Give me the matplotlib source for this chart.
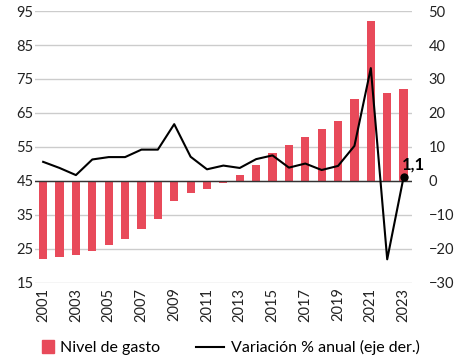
import numpy as np
import matplotlib.pyplot as plt
from matplotlib.lines import Line2D
from matplotlib.patches import Patch, Rectangle
from matplotlib.legend_handler import HandlerPatch

plt.rcParams['font.family'] = ['Lato', 'DejaVu Sans']

years = list(range(2001, 2024))
gasto = [22.0, 22.6, 23.1, 24.3, 26.1, 27.9, 30.8, 33.7, 39.0, 41.4, 42.6, 44.4,
         46.8, 49.7, 53.1, 55.6, 57.9, 60.3, 62.6, 69.1, 92.0, 70.8, 72.0]
variacion = [5.6, 3.8, 1.7, 6.3, 7.0, 7.0, 9.2, 9.2, 16.7, 7.1, 3.4, 4.5,
             3.8, 6.4, 7.5, 3.9, 5.1, 3.2, 4.4, 10.3, 33.2, -23.1, 1.1]
base = 45
bar_color = '#e84a5a'

fig = plt.figure(figsize=(4.54, 3.57), dpi=100)
ax = fig.add_axes([0.077, 0.208, 0.83, 0.761])
ax2 = ax.twinx()

x = np.arange(len(years))
ax.bar(x, np.array(gasto) - base, bottom=base, width=0.5, color=bar_color, zorder=2)
ax.axhline(base, color='#333333', lw=1, zorder=3)
ax.set_ylim(15, 95)
ax.set_yticks(range(15, 96, 10))
ax.grid(axis='y', color='#cccccc', lw=1, zorder=0)
ax.set_axisbelow(True)
ax.set_xlim(-0.5, 22.5)
ax.set_xticks(x[::2])
ax.set_xticklabels([str(y) for y in years[::2]], rotation=90)

ax2.plot(x, variacion, color='black', lw=1.5, zorder=4)
ax2.plot(x[-1], variacion[-1], 'o', color='black', ms=5, zorder=5)
ax2.annotate('1,1', (x[-1], variacion[-1]), xytext=(-1.5, 5.5), textcoords='offset points',
             fontsize=12, fontweight='bold', ha='left', va='baseline')
ax2.set_ylim(-30, 50)
ax2.set_yticks(range(-30, 51, 10))

for a in (ax, ax2):
    for s in a.spines.values():
        s.set_visible(False)
    a.tick_params(length=0, labelsize=10.5, colors='#222222')
ax.tick_params(axis='y', pad=1)
ax2.tick_params(axis='y', pad=12)


def square_right(legend, orig_handle, xdescent, ydescent, width, height, fontsize):
    side = 9
    return Rectangle((width - side - xdescent, (height - side) / 2 - ydescent), side, side)


handles = [Patch(color=bar_color), Line2D([], [], color='black', lw=1.5)]
fig.legend(handles, ['Nivel de gasto', 'Variación % anual (eje der.)'],
           loc='lower center', bbox_to_anchor=(0.49, -0.035), ncol=2, frameon=False,
           fontsize=11.5, handlelength=1.8, handletextpad=0.4, columnspacing=2.2,
           handler_map={Patch: HandlerPatch(patch_func=square_right)})

fig.savefig('out.png', dpi=100)
